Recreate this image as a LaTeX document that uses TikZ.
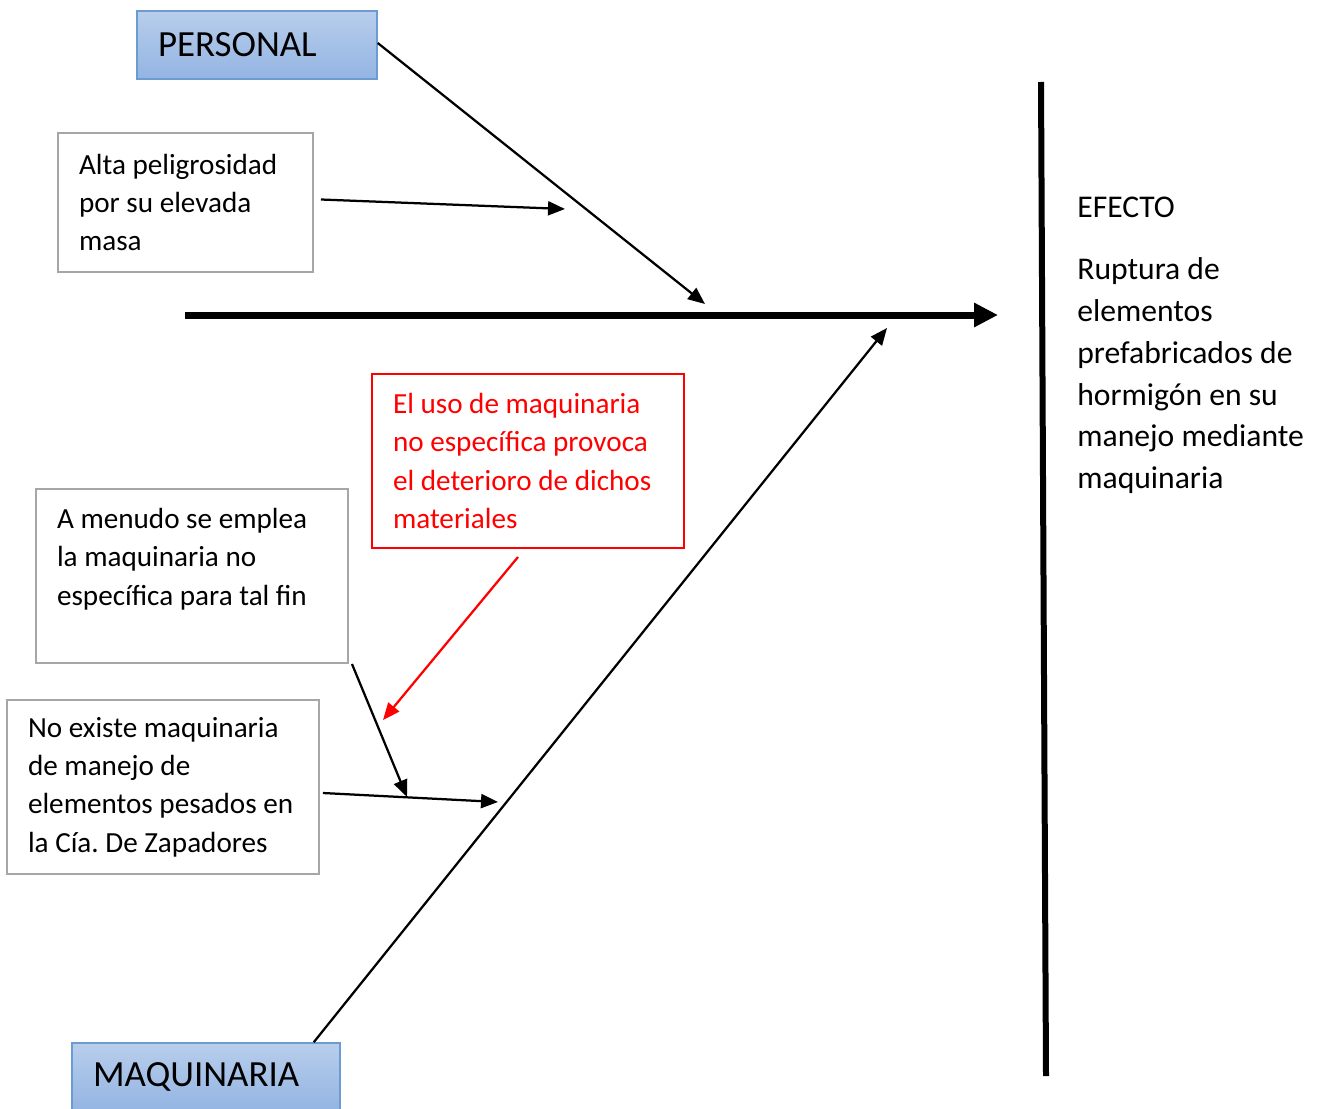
\documentclass[tikz,border=0pt]{standalone}
\usepackage{fontspec}
\setmainfont{Carlito}
\usepackage{xcolor}
\usepackage{tikz}
\usetikzlibrary{calc,arrows.meta,positioning}
\definecolor{boxgray}{RGB}{166,166,166}
\definecolor{catedge}{RGB}{108,155,210}
\definecolor{cattop}{RGB}{184,206,236}
\definecolor{catbot}{RGB}{147,180,226}
\frenchspacing

\begin{document}
\begin{tikzpicture}[x=0.02cm, y=-0.02cm,
      causa/.style={draw=boxgray, line width=0.04cm, align=flush left, inner xsep=0.42cm, text width=5.4cm,
                    minimum height=3.48cm, font=\fontsize{16.6}{21.8}\selectfont},
      categ/.style={draw=catedge, line width=0.03cm, top color=cattop, bottom color=catbot, align=flush left,
                    inner xsep=0.42cm, minimum height=1.36cm, font=\fontsize{21}{26}\selectfont},
      arr/.style={line width=0.045cm, -{Triangle[length=0.34cm,width=0.28cm]}}]
    \useasboundingbox (0,0) rectangle (1317,1108);
    % categories
    \node[categ, text width=3.96cm] (personal) at (257,45) {PERSONAL};
    \node[categ, text width=4.52cm] (maquinaria) at (206,1077) {MAQUINARIA};
    % causes
    \node[causa, text width=4.26cm, minimum height=2.78cm] (alta) at (185.5,202.5)
      {Alta peligrosidad\\por su elevada\\masa};
    \node[causa, draw=red, text=red] (uso) at (528,461)
      {El uso de maquinaria\\no específica provoca\\el deterioro de dichos\\materiales};
    \node[causa] (menudo) at (192,576)
      {A menudo se emplea\\la maquinaria no\\específica para tal fin\\ \mbox{}};
    \node[causa] (noexiste) at (163,787)
      {No existe maquinaria\\de manejo de\\elementos pesados en\\la Cía. De Zapadores};
    % effect
    \node[anchor=north west, inner sep=0pt, align=flush left, font=\fontsize{18}{23.8}\selectfont] (efecto) at (1077,197)
      {EFECTO\\[0.4cm]Ruptura de\\elementos\\prefabricados de\\hormigón en su\\manejo mediante\\maquinaria};
    % spine
    \coordinate (spineL) at (185,315);
    \coordinate (spineR) at (998,315);
    \coordinate (headT) at (1041,82);
    \coordinate (headB) at (1046,1076);
    \draw[line width=0.14cm, -{Triangle[length=0.48cm,width=0.46cm]}] (spineL) -- (spineR);
    \draw[line width=0.12cm] (headT) -- (headB);
    % bones
    \coordinate (pEnd) at (705,304);
    \coordinate (aEnd) at (565,209);
    \coordinate (mEnd) at (887,328);
    \coordinate (rEnd) at (383,720);
    \coordinate (nEnd) at (407,797);
    \coordinate (xEnd) at (498,802);
    \draw[arr] ([yshift=0.04cm]personal.east) -- (pEnd);
    \draw[arr] ([xshift=0.14cm,yshift=0.06cm]alta.east) -- (aEnd);
    \draw[arr] ([xshift=-0.54cm]maquinaria.north east) -- (mEnd);
    \draw[arr, red] ([xshift=-0.2cm,yshift=-0.16cm]uso.south) -- (rEnd);
    \draw[arr] ([xshift=0.06cm]menudo.south east) -- (nEnd);
    \draw[arr] ([xshift=0.06cm,yshift=-0.12cm]noexiste.east) -- (xEnd);
  \end{tikzpicture}
\end{document}
